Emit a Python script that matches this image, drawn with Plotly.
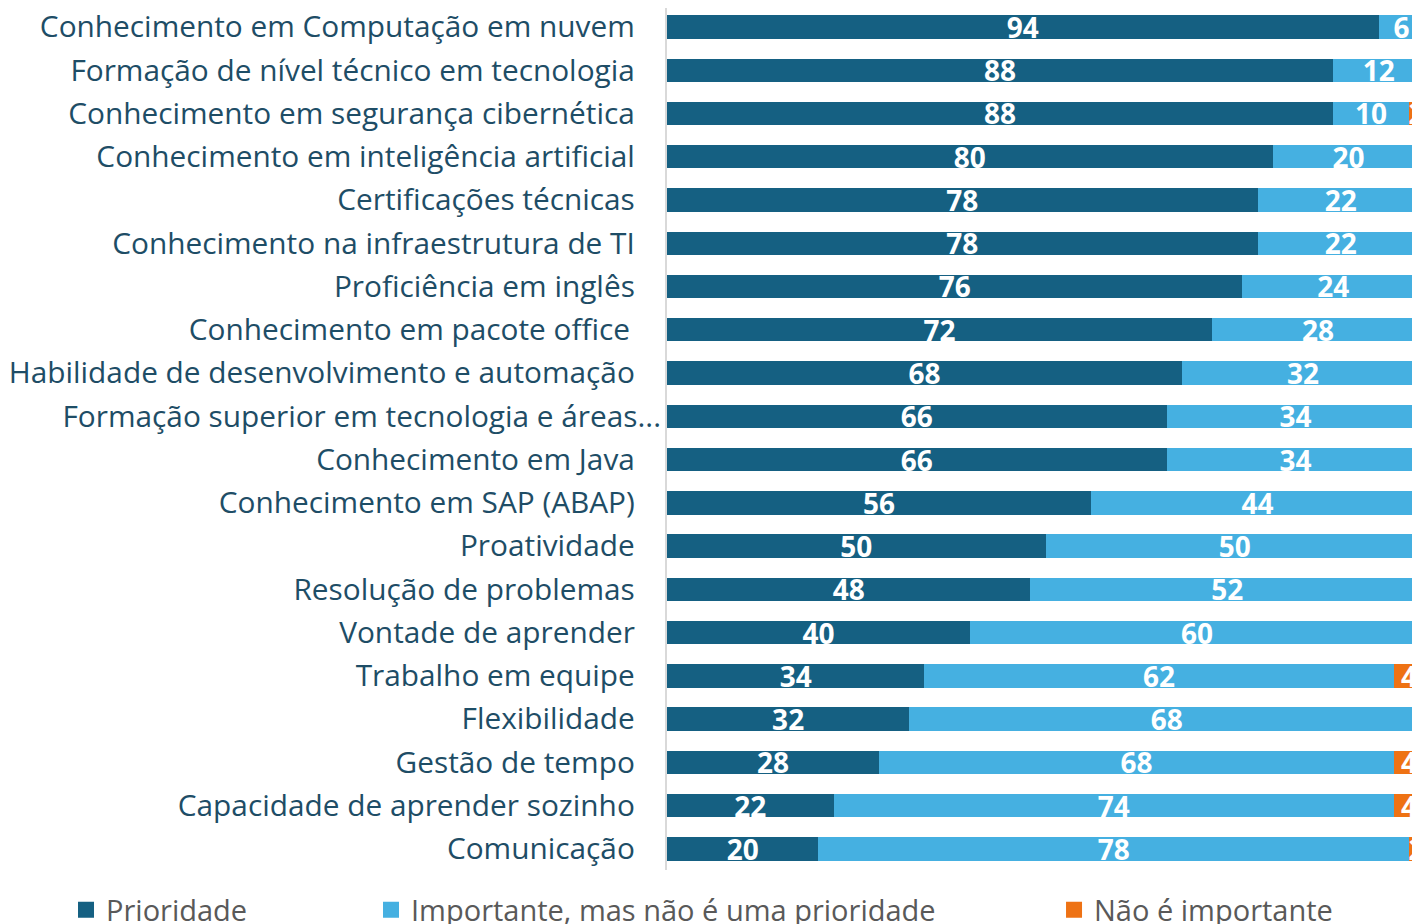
import plotly.graph_objects as go

categorias = [
    "Conhecimento em Computação em nuvem",
    "Formação de nível técnico em tecnologia",
    "Conhecimento em segurança cibernética",
    "Conhecimento em inteligência artificial",
    "Certificações técnicas",
    "Conhecimento na infraestrutura de TI",
    "Proficiência em inglês",
    "Conhecimento em pacote office",
    "Habilidade de desenvolvimento e automação",
    "Formação superior em tecnologia e áreas...",
    "Conhecimento em Java",
    "Conhecimento em SAP (ABAP)",
    "Proatividade",
    "Resolução de problemas",
    "Vontade de aprender",
    "Trabalho em equipe",
    "Flexibilidade",
    "Gestão de tempo",
    "Capacidade de aprender sozinho",
    "Comunicação",
]
prioridade = [94, 88, 88, 80, 78, 78, 76, 72, 68, 66, 66, 56, 50, 48, 40, 34, 32, 28, 22, 20]
importante = [6, 12, 10, 20, 22, 22, 24, 28, 32, 34, 34, 44, 50, 52, 60, 62, 68, 68, 74, 78]
nao_importante = [0, 0, 2, 0, 0, 0, 0, 0, 0, 0, 0, 0, 0, 0, 0, 4, 0, 4, 4, 2]

series = [
    ("Prioridade", prioridade, "#156082", "legend"),
    ("Importante, mas não é uma prioridade", importante, "#45B0E1", "legend2"),
    ("Não é importante", nao_importante, "#EE7214", "legend3"),
]

# labels sit a bit away from the axis, except the truncated one
nb = "\u00a0"
ticktext = []
for c in categorias:
    if c.endswith("..."):
        ticktext.append(c)
    elif c == "Conhecimento em pacote office":
        ticktext.append(c + nb * 4)
    else:
        ticktext.append(c + nb * 3 + "\u200a")

fig = go.Figure()
for nome, vals, cor, leg in series:
    fig.add_trace(go.Bar(
        y=categorias, x=vals, orientation="h", name=nome,
        marker=dict(color=cor, line=dict(width=0)),
        text=[str(v) if v else "" for v in vals],
        textposition="inside", insidetextanchor="middle",
        constraintext="none", textangle=0,
        textfont=dict(family="Open Sans", size=28, color="white", weight="bold"),
        showlegend=False,
    ))
    # legend entry with a square marker
    fig.add_trace(go.Scatter(
        x=[None], y=[None], mode="markers", name=nome,
        marker=dict(symbol="square", size=17, color=cor),
        legend=leg, showlegend=True,
    ))

leg_font = dict(family="Open Sans", size=29, color="#595959")
leg_common = dict(orientation="h", yanchor="middle", y=-0.0464,
                  font=leg_font, bgcolor="rgba(0,0,0,0)", borderwidth=0)

fig.update_layout(
    width=1404, height=916,
    barmode="stack", bargap=0.457,
    plot_bgcolor="white", paper_bgcolor="white",
    margin=dict(l=659, r=0, t=0, b=54, autoexpand=False),
    legend=dict(x=-0.8067, **leg_common),
    legend2=dict(x=-0.3973, **leg_common),
    legend3=dict(x=0.5195, **leg_common),
    xaxis=dict(range=[0, 98.4], showgrid=False, zeroline=False,
               showticklabels=False, fixedrange=True),
    yaxis=dict(range=[19.491, -0.439], tickmode="array", tickvals=categorias,
               ticktext=ticktext, showgrid=False, showline=True,
               linecolor="#D9D9D9", linewidth=2, ticks="", ticklabelstandoff=-2,
               tickfont=dict(family="Open Sans", size=29.8, color="#1E4D66")),
)

fig.write_html("out.html")
